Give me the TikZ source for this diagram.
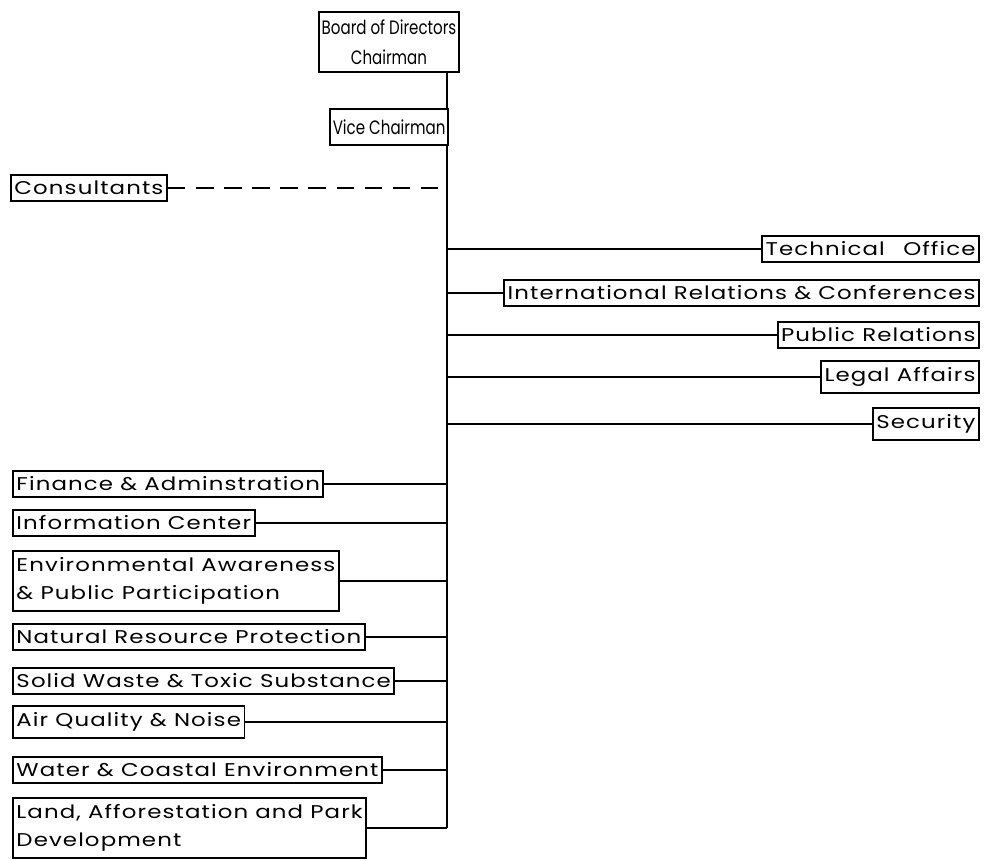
\documentclass[tikz,border=0pt]{standalone}
\usepackage{fontspec}
\setmainfont{Poppins}[LetterSpace=6, FakeStretch=1.24]
\newfontfamily\headfont{Poppins}[FakeStretch=0.78]

\begin{document}
\begin{tikzpicture}[x=0.02cm, y=-0.02cm,
  unit/.style={draw, line width=1.1pt, inner xsep=2pt, inner ysep=3.5pt,
    font=\fontsize{10.5}{16}\selectfont, align=left},
  head/.style={unit, inner xsep=1.5pt, font=\headfont\fontsize{11}{17}\selectfont},
  link/.style={line width=1.1pt}]
  \useasboundingbox (0,0) rectangle (988,860);
  \coordinate (trunk) at (447,0);

  % top of the chart
  \node[head, align=center, minimum height=34pt] (board) at (389,42) {Board of Directors\\Chairman};
  \node[head, anchor=east, minimum height=20pt] (vice) at (449,127) {Vice Chairman};
  \draw[link] (board.south -| trunk) -- (vice.north -| trunk);

  % advisers
  \node[unit, anchor=west] (cons) at (10,188) {Consultants};
  \draw[link, dash pattern=on 10pt off 6pt] (cons.east) -- (cons.east -| trunk);

  % offices on the right
  \foreach \n/\y/\t in {tech/249/{Technical\quad Office},
    intl/293/{International Relations \& Conferences},
    pr/335/{Public Relations}, legal/377/{Legal Affairs}, sec/424/{Security}}
  {
    \node[unit, anchor=east] (\n) at (980,\y) {\t};
    \draw[link] (\n.west) -- (\n.west -| trunk);
  }

  % departments on the left
  \foreach \n/\y/\t in {fin/484/{Finance \& Adminstration},
    info/523/{Information Center},
    env/581/{Environmental Awareness\\\& Public Participation},
    nat/637/{Natural Resource Protection},
    solid/681/{Solid Waste \& Toxic Substance},
    air/722/{Air Quality \& Noise},
    water/770/{Water \& Coastal Environment},
    land/828/{Land, Afforestation and Park\\Development}}
  {
    \node[unit, anchor=west] (\n) at (12,\y) {\t};
    \draw[link] (\n.east) -- (\n.east -| trunk);
  }

  \draw[link] (vice.south -| trunk) -- (land.east -| trunk);
\end{tikzpicture}
\end{document}
